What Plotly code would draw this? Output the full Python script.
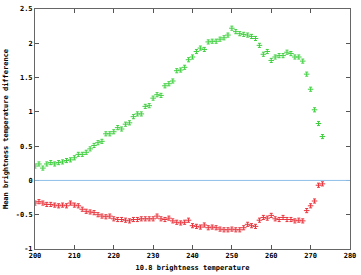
import plotly.graph_objects as go

temps = list(range(200, 274))

green_vals = [0.21, 0.24, 0.18, 0.24, 0.26, 0.24, 0.26, 0.27, 0.29, 0.30,
              0.33, 0.38, 0.38, 0.41, 0.46, 0.51, 0.55, 0.57, 0.68, 0.68,
              0.71, 0.77, 0.75, 0.82, 0.84, 0.93, 0.97, 0.97, 1.08, 1.09,
              1.20, 1.25, 1.24, 1.38, 1.41, 1.45, 1.60, 1.61, 1.65, 1.76,
              1.80, 1.88, 1.93, 1.91, 2.02, 2.03, 2.03, 2.06, 2.08, 2.12,
              2.22, 2.17, 2.14, 2.13, 2.12, 2.10, 2.07, 1.97, 1.84, 1.88,
              1.75, 1.80, 1.82, 1.82, 1.87, 1.85, 1.80, 1.80, 1.74, 1.55,
              1.33, 1.03, 0.83, 0.64]

red_vals = [-0.33, -0.31, -0.33, -0.35, -0.35, -0.36, -0.37, -0.36, -0.37, -0.33,
            -0.36, -0.37, -0.42, -0.45, -0.46, -0.47, -0.50, -0.52, -0.53, -0.52,
            -0.56, -0.57, -0.57, -0.58, -0.59, -0.57, -0.57, -0.56, -0.56, -0.56,
            -0.56, -0.52, -0.56, -0.57, -0.55, -0.59, -0.61, -0.62, -0.61, -0.58,
            -0.66, -0.67, -0.68, -0.65, -0.69, -0.68, -0.69, -0.71, -0.72, -0.72,
            -0.71, -0.72, -0.72, -0.69, -0.64, -0.66, -0.67, -0.58, -0.54, -0.55,
            -0.51, -0.56, -0.57, -0.54, -0.57, -0.57, -0.59, -0.58, -0.59, -0.44,
            -0.37, -0.30, -0.07, -0.05]

err = 0.03
zero_level = 0

x_ticks = [200, 210, 220, 230, 240, 250, 260, 270, 280]
x_ticktext = ["200", "210", "220", "230", "240", "250", "260", "270", "280"]
y_ticks = [-1, -0.5, 0, 0.5, 1, 1.5, 2, 2.5]
y_ticktext = ["-1", "-0.5", "0", "0.5", "1", "1.5", "2", "2.5"]

GREEN = "#3fcf3f"
RED = "#e8343c"
BLUE = "#8ebfe8"
MONO = "DejaVu Sans Mono"

fig = go.Figure()
for vals, col in [(green_vals, GREEN), (red_vals, RED)]:
    fig.add_trace(go.Scatter(
        x=temps, y=vals, mode="markers",
        marker=dict(symbol="line-ew", size=4, color=col, line=dict(color=col, width=1)),
        error_y=dict(type="constant", value=err, color=col, thickness=1, width=1.5),
        showlegend=False, hoverinfo="skip"))

fig.add_shape(type="line", xref="paper", x0=0, x1=1, yref="y",
              y0=zero_level, y1=zero_level, line=dict(color=BLUE, width=1))

fig.update_layout(
    width=361, height=275,
    margin=dict(l=32, r=8, t=5, b=24),
    paper_bgcolor="white", plot_bgcolor="white",
    font=dict(family=MONO, size=7, color="#000"),
)
fig.update_xaxes(range=[200, 280], tickvals=x_ticks,
                 ticktext=["<b>%s</b>" % t for t in x_ticktext],
                 ticks="inside", ticklen=4, tickcolor="#555", mirror="ticks",
                 showline=True, linecolor="#666", linewidth=1, showgrid=False,
                 zeroline=False, tickfont=dict(family=MONO, size=7),
                 title=dict(text="<b>10.8 brightness temperature</b>", standoff=5,
                            font=dict(family=MONO, size=7)))
fig.update_yaxes(range=[-1, 2.5], tickvals=y_ticks,
                 ticktext=["<b>%s</b>" % t for t in y_ticktext],
                 ticks="inside", ticklen=4, tickcolor="#555", mirror="ticks",
                 showline=True, linecolor="#666", linewidth=1, showgrid=False,
                 zeroline=False, tickfont=dict(family=MONO, size=7),
                 title=dict(text="<b>Mean brightness temperature difference</b>", standoff=6,
                            font=dict(family=MONO, size=7)))

fig.write_html("out.html")
